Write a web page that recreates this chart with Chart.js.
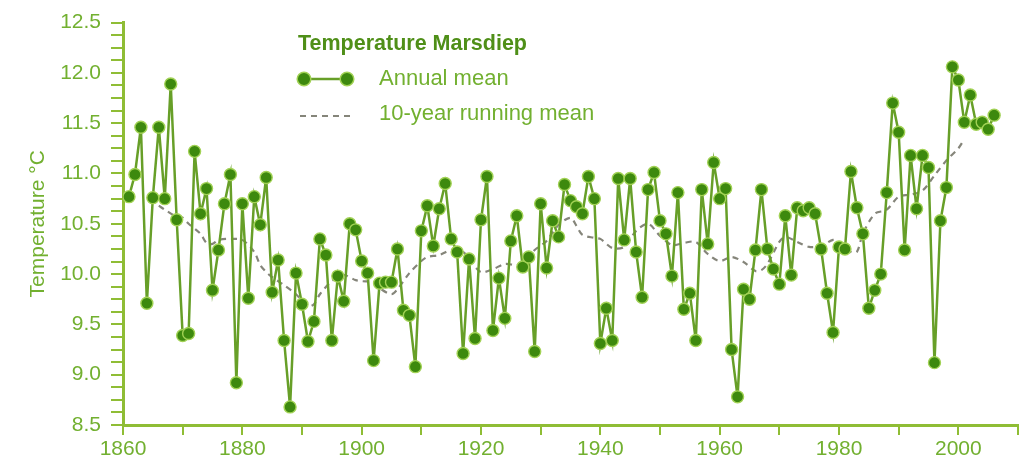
<!DOCTYPE html>
<html>
<head>
<meta charset="utf-8">
<script src="https://cdn.jsdelivr.net/npm/chart.js@4.4.1/dist/chart.umd.min.js"></script>
<style>
  html, body { margin: 0; padding: 0; background: #ffffff; }
  #wrap { width: 1029px; height: 466px; position: relative; }
</style>
</head>
<body>
<div id="wrap"><canvas id="chart" width="1029" height="466"></canvas></div>
<script>
// Sea-surface temperature at Marsdiep (°C)
const chartTitle = 'Temperature Marsdiep';
const yAxisTitle = 'Temperature °C';
const annualLabel = 'Annual mean';
const runningLabel = '10-year running mean';

// Annual means, one per year starting at firstYear
const firstYear = 1861;
const annualMean = [
  10.77, 10.99, 11.46, 9.71, 10.76, 11.46, 10.75, 11.89, 10.54, 9.39,   // 1861-1870
  9.41, 11.22, 10.60, 10.85, 9.84, 10.24, 10.70, 10.99, 8.92, 10.70,    // 1871-1880
  9.76, 10.77, 10.49, 10.96, 9.82, 10.14, 9.34, 8.68, 10.01, 9.70,      // 1881-1890
  9.33, 9.53, 10.35, 10.19, 9.34, 9.98, 9.73, 10.50, 10.44, 10.13,      // 1891-1900
  10.01, 9.14, 9.91, 9.92, 9.92, 10.25, 9.64, 9.59, 9.08, 10.43,        // 1901-1910
  10.68, 10.28, 10.65, 10.90, 10.35, 10.22, 9.21, 10.15, 9.36, 10.54,   // 1911-1920
  10.97, 9.44, 9.96, 9.56, 10.33, 10.58, 10.07, 10.17, 9.23, 10.70,     // 1921-1930
  10.06, 10.53, 10.37, 10.89, 10.73, 10.67, 10.60, 10.97, 10.75, 9.31,  // 1931-1940
  9.66, 9.34, 10.95, 10.34, 10.95, 10.22, 9.77, 10.84, 11.01, 10.53,    // 1941-1950
  10.40, 9.98, 10.81, 9.65, 9.81, 9.34, 10.84, 10.30, 11.11, 10.75,     // 1951-1960
  10.85, 9.25, 8.78, 9.85, 9.75, 10.24, 10.84, 10.25, 10.05, 9.90,      // 1961-1970
  10.58, 9.99, 10.66, 10.63, 10.66, 10.60, 10.25, 9.81, 9.42, 10.27,    // 1971-1980
  10.25, 11.02, 10.66, 10.40, 9.66, 9.84, 10.00, 10.81, 11.70, 11.41,   // 1981-1990
  10.24, 11.18, 10.65, 11.18, 11.06, 9.12, 10.53, 10.86, 12.06, 11.93,  // 1991-2000
  11.51, 11.78, 11.49, 11.51, 11.44, 11.58                              // 2001-2006
];
const annualYears = annualMean.map((_, i) => firstYear + i);

// 10-year running mean, sampled along the curve
const runningYears = [
  1866, 1867, 1869, 1870, 1871, 1873, 1874, 1875, 1876, 1878, 1880, 1882, 1883, 1884, 1885,
  1887, 1889, 1891, 1892, 1893, 1895, 1897, 1899, 1900, 1902, 1903, 1905, 1906, 1908, 1910,
  1911, 1913, 1915, 1917, 1918, 1920, 1922, 1924, 1926, 1927, 1929, 1931, 1933, 1935, 1936,
  1937, 1939, 1940, 1942, 1944, 1946, 1948, 1950, 1952, 1954, 1956, 1958, 1960, 1962, 1964,
  1966, 1967, 1968, 1970, 1971, 1973, 1975, 1977, 1979, 1980, 1982, 1983, 1984, 1986, 1988,
  1990, 1992, 1994, 1996, 1998, 2000, 2001
];
const runningMean = [
  10.68, 10.64, 10.57, 10.56, 10.50, 10.40, 10.31, 10.30, 10.34, 10.35, 10.34, 10.22, 10.09, 10.02, 9.97,
  9.89, 9.80, 9.68, 9.70, 9.80, 9.93, 9.99, 9.94, 9.93, 9.92, 9.86, 9.80, 9.85, 10.01, 10.13,
  10.17, 10.19, 10.24, 10.22, 10.15, 10.02, 10.05, 10.10, 10.09, 10.12, 10.24, 10.33, 10.49, 10.56, 10.48,
  10.39, 10.36, 10.35, 10.26, 10.27, 10.43, 10.50, 10.38, 10.29, 10.31, 10.32, 10.20, 10.13, 10.17, 10.12,
  10.03, 10.04, 10.10, 10.32, 10.37, 10.32, 10.27, 10.28, 10.34, 10.32, 10.22, 10.22, 10.40, 10.60, 10.64,
  10.77, 10.79, 10.83, 10.98, 11.13, 11.25, 11.34
];

// Axis ranges and tick spacing
const xMin = 1860, xMax = 2010, xTickStep = 10, xLabelStep = 20;
const yMin = 8.5, yMax = 12.5, yTickStep = 0.125, yLabelStep = 0.5;

const FONT = '"Liberation Sans", Arial, Helvetica, sans-serif';
const axisGreen = '#8fbd35';
const labelGreen = '#72b030';
const titleGreen = '#4f8f18';
const pointFill = '#3d890e';
const pointEdge = '#a2d255';
const lineGreen = '#679f28';
const dashGrey = '#85857a';

// Legend block drawn inside the plot, upper left
const keyPlugin = {
  id: 'seriesKey',
  afterDraw(chart) {
    const ctx = chart.ctx;
    ctx.save();
    ctx.textBaseline = 'middle';
    ctx.textAlign = 'left';

    ctx.font = 'bold 21.5px ' + FONT;
    ctx.fillStyle = titleGreen;
    ctx.fillText(chartTitle, 298, 44);

    // line with markers
    ctx.strokeStyle = lineGreen;
    ctx.lineWidth = 2.5;
    ctx.beginPath();
    ctx.moveTo(304, 79);
    ctx.lineTo(347, 79);
    ctx.stroke();
    [304, 347].forEach(cx => {
      ctx.beginPath();
      ctx.arc(cx, 79, 6.8, 0, Math.PI * 2);
      ctx.fillStyle = pointFill;
      ctx.fill();
      ctx.lineWidth = 1.5;
      ctx.strokeStyle = pointEdge;
      ctx.stroke();
    });

    // dashed line
    ctx.strokeStyle = dashGrey;
    ctx.lineWidth = 2;
    ctx.setLineDash([6, 5]);
    ctx.beginPath();
    ctx.moveTo(300, 116);
    ctx.lineTo(353, 116);
    ctx.stroke();
    ctx.setLineDash([]);

    ctx.font = '22px ' + FONT;
    ctx.fillStyle = labelGreen;
    ctx.fillText(annualLabel, 379, 79);
    ctx.fillText(runningLabel, 379, 114);
    ctx.restore();
  }
};

new Chart(document.getElementById('chart'), {
  type: 'line',
  data: {
    datasets: [
      {
        label: annualLabel,
        data: annualYears.map((yr, i) => ({ x: yr, y: annualMean[i] })),
        borderColor: lineGreen,
        borderWidth: 2.5,
        pointRadius: 6,
        pointBackgroundColor: pointFill,
        pointBorderColor: pointEdge,
        pointBorderWidth: 1.4,
        tension: 0,
        order: 0
      },
      {
        label: runningLabel,
        data: runningYears.map((yr, i) => ({ x: yr, y: runningMean[i] })),
        borderColor: dashGrey,
        borderWidth: 2.2,
        borderDash: [6, 5],
        pointRadius: 0,
        tension: 0.3,
        order: 1
      }
    ]
  },
  options: {
    responsive: false,
    animation: false,
    layout: { padding: { top: 20, right: 11, left: 0, bottom: 0 } },
    plugins: {
      legend: { display: false },
      tooltip: { enabled: false }
    },
    scales: {
      x: {
        type: 'linear',
        min: xMin,
        max: xMax,
        afterFit(scale) { scale.height = 41; },
        border: { display: true, color: axisGreen, width: 3 },
        grid: { drawOnChartArea: false, drawTicks: true, tickLength: 10, color: axisGreen, lineWidth: 2 },
        ticks: {
          stepSize: xTickStep,
          autoSkip: false,
          maxRotation: 0,
          padding: 2,
          color: labelGreen,
          font: { family: FONT, size: 21 },
          callback: v => (v % xLabelStep === 0 && v < xMax) ? String(v) : ''
        }
      },
      y: {
        type: 'linear',
        min: yMin,
        max: yMax,
        afterFit(scale) { scale.width = 123; },
        border: { display: true, color: axisGreen, width: 3 },
        grid: { drawOnChartArea: false, drawTicks: true, tickLength: 12, color: axisGreen, lineWidth: 2 },
        title: {
          display: true,
          text: yAxisTitle,
          color: labelGreen,
          font: { family: FONT, size: 21 },
          padding: { top: 26, bottom: 0 }
        },
        ticks: {
          stepSize: yTickStep,
          autoSkip: false,
          padding: 10,
          color: labelGreen,
          font: { family: FONT, size: 21 },
          callback: v => (Math.abs(v / yLabelStep - Math.round(v / yLabelStep)) < 1e-6) ? v.toFixed(1) : ''
        }
      }
    }
  },
  plugins: [keyPlugin]
});
</script>
</body>
</html>
